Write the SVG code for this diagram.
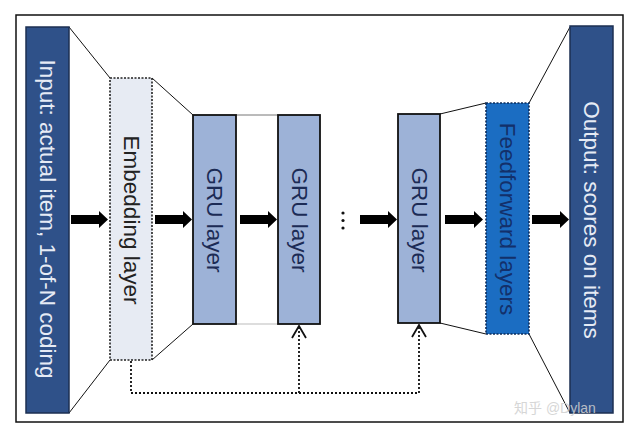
<svg xmlns="http://www.w3.org/2000/svg" width="640" height="439" viewBox="0 0 640 439">
<defs>
<style>
.lbl{font-family:"Liberation Sans",Arial,sans-serif;font-size:22.5px;text-anchor:middle;dominant-baseline:central}
.io{fill:#2f5189;stroke:#1c2f52;stroke-width:1.5}
.gru{fill:#9db2d7;stroke:#111;stroke-width:1.8}
.edge{stroke:#111;stroke-width:1;fill:none}
.dot{stroke:#111;stroke-width:1.8;fill:none;stroke-dasharray:2 2}
.arr{fill:#000}
</style>
<marker id="chev" viewBox="0 0 14 16" refX="13" refY="8" markerWidth="14" markerHeight="16" markerUnits="userSpaceOnUse" orient="auto">
<path d="M1,1 L13,8 L1,15" fill="none" stroke="#111" stroke-width="1.8"/>
</marker>
</defs>
<rect x="0" y="0" width="640" height="439" fill="#fff"/>
<rect x="16" y="15" width="607" height="407" fill="#fff" stroke="#111" stroke-width="1.5"/>
<g id="connectors">
<line class="edge" x1="69" y1="27" x2="110" y2="78"/>
<line class="edge" x1="69" y1="413" x2="110" y2="360"/>
<line class="edge" x1="152" y1="78" x2="193" y2="115"/>
<line class="edge" x1="152" y1="360" x2="193" y2="324"/>
<line x1="236" y1="115" x2="278" y2="115" stroke="#777" stroke-width="1"/>
<line x1="236" y1="324" x2="278" y2="324" stroke="#bbb" stroke-width="1"/>
<line class="edge" x1="440" y1="114" x2="486" y2="103"/>
<line class="edge" x1="440" y1="323" x2="486" y2="334"/>
<line class="edge" x1="529" y1="103" x2="570" y2="27"/>
<line class="edge" x1="529" y1="334" x2="570" y2="413"/>
<path class="arr" d="M71,215 H99 V211 L108,219.5 L99,228 V224 H71 Z"/>
<path class="arr" d="M155,215 H183 V211 L192,219.5 L183,228 V224 H155 Z"/>
<path class="arr" d="M240,215 H268 V211 L277,219.5 L268,228 V224 H240 Z"/>
<path class="arr" d="M360,215 H388 V211 L397,219.5 L388,228 V224 H360 Z"/>
<path class="arr" d="M445,215 H474 V211 L483,219.5 L474,228 V224 H445 Z"/>
<path class="arr" d="M532,215 H560 V211 L569,219.5 L560,228 V224 H532 Z"/>
<path class="dot" d="M131,361 V393 H419"/>
<path class="dot" d="M299,393 V326" marker-end="url(#chev)"/>
<path class="dot" d="M419,393 V325" marker-end="url(#chev)"/>
</g>
<g id="input">
<rect class="io" x="26" y="27" width="43" height="386"/>
<text class="lbl" fill="#e6ebf5" transform="translate(47.5,219) rotate(90)">Input: actual item, 1-of-N coding</text>
</g>
<g id="embedding">
<rect x="110" y="78" width="42" height="282" fill="#e7ebf3" stroke="#222" stroke-width="1.6" stroke-dasharray="2 1.5"/>
<text class="lbl" fill="#222" transform="translate(131,220) rotate(90)">Embedding layer</text>
</g>
<g id="gru1">
<rect class="gru" x="193" y="115" width="43" height="209"/>
<text class="lbl" fill="#1c2b55" transform="translate(214.5,220) rotate(90)">GRU layer</text>
</g>
<g id="gru2">
<rect class="gru" x="278" y="115" width="42" height="209"/>
<text class="lbl" fill="#1c2b55" transform="translate(299,220) rotate(90)">GRU layer</text>
</g>
<g id="ellipsis">
<circle cx="343" cy="213" r="1.6" fill="#111"/>
<circle cx="343" cy="220.5" r="1.6" fill="#111"/>
<circle cx="343" cy="228" r="1.6" fill="#111"/>
</g>
<g id="gru3">
<rect class="gru" x="398" y="114" width="42" height="209"/>
<text class="lbl" fill="#1c2b55" transform="translate(419,220) rotate(90)">GRU layer</text>
</g>
<g id="feedforward">
<rect x="486" y="103" width="43" height="231" fill="#1b6dc2" stroke="#0d2c5a" stroke-width="1.6" stroke-dasharray="2 1.5"/>
<text class="lbl" fill="#13306a" transform="translate(507.5,219) rotate(90)">Feedforward layers</text>
</g>
<g id="output">
<rect class="io" x="570" y="26" width="43" height="387"/>
<text class="lbl" fill="#e6ebf5" transform="translate(591.5,220) rotate(90)">Output: scores on items</text>
</g>
<text x="514" y="413" font-family="'Liberation Sans','Noto Sans CJK SC',sans-serif" font-size="14" fill="#d0d0d0" opacity="0.85">知乎 @Dylan</text>
</svg>
